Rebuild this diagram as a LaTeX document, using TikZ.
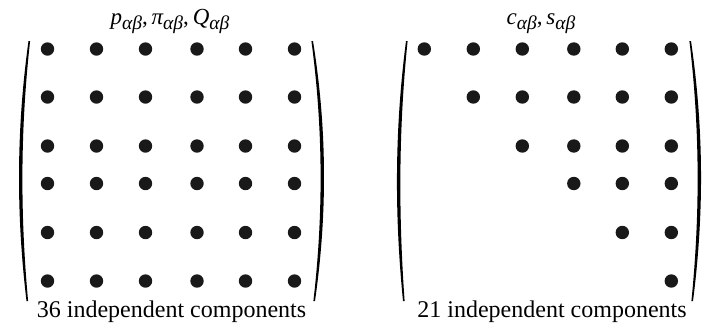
\documentclass[tikz,border=0pt]{standalone}
\usepackage{fontspec}
\setmainfont{Liberation Serif}
% subscript alpha-beta, set slightly below the baseline
\newcommand\abidx{\raisebox{-0.22em}{\fontsize{19.5}{19.5}\selectfont\itshape αβ}}
% a tall round bracket drawn as a crescent: top x, bottom x, control x, inward thickness
\newcommand\bracketarc[4]{%
  \fill (#1,41) .. controls (#3,130) and (#3,215) .. (#2,301)
    -- ({#2+#4*0.4},301) .. controls ({#3+#4},215) and ({#3+#4},130) .. ({#1+#4*0.4},41) -- cycle;}
\begin{document}
\begin{tikzpicture}[x=1pt,y=-1pt,
  dotmark/.style={fill=black!90},
  titletext/.style={font=\fontsize{23}{27}\selectfont, anchor=base},
  counttext/.style={font=\fontsize{24}{28}\selectfont, anchor=base}]
\useasboundingbox (0,0) rectangle (711,333);

% column and row positions of the entries
\def\rowsY{{49,97,146,183.5,232.5,281}}
\def\colsL{{47.5,96.5,145.5,197,245.5,294.5}}

% full 6x6 matrix
\foreach \i in {0,...,5}
  \foreach \j in {0,...,5}
    \fill[dotmark] ({\colsL[\j]},{\rowsY[\i]}) circle (6.7);

% upper-triangular 6x6 matrix
\foreach \i in {0,...,5}
  \foreach \j in {\i,...,5}
    \fill[dotmark] ({\colsL[\j]+376.8},{\rowsY[\i]}) circle (6.7);

% brackets
\bracketarc{28.5}{26.5}{16.2}{4}
\bracketarc{313}{315}{327.3}{-4}
\bracketarc{406}{403}{394.5}{4}
\bracketarc{691}{693}{704}{-4}

% labels
\node[titletext] (ttlA) at (170,24) {{\itshape p}\abidx,\,{\itshape π}\abidx,\,{\itshape Q}\abidx};
\node[titletext] (ttlB) at (541,24) {{\itshape c}\abidx,\,{\itshape s}\abidx};
\node[counttext] (cntA) at (171.5,317) {36 independent components};
\node[counttext] (cntB) at (552,317) {21 independent components};
\end{tikzpicture}
\end{document}
